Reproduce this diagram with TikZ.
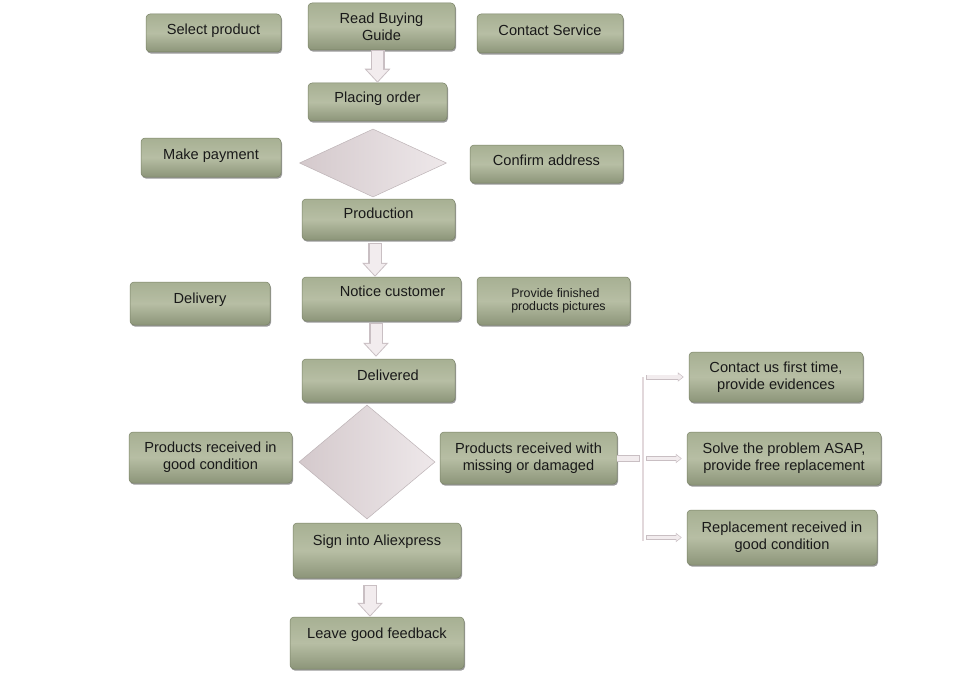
\documentclass[tikz,border=0pt]{standalone}
\usepackage{fontspec}
\setmainfont{Liberation Sans}
\usetikzlibrary{shapes.geometric,arrows.meta,shadows}
\definecolor{gTop}{HTML}{A7B093}
\definecolor{gMid}{HTML}{B7BEA4}
\definecolor{gBot}{HTML}{8C9579}
\definecolor{gEdge}{HTML}{7A8367}
\definecolor{dTop}{HTML}{D4C9CC}
\definecolor{dBot}{HTML}{EEE8EA}
\definecolor{dEdge}{HTML}{BDB3B6}
\definecolor{aFill}{HTML}{F2ECEE}
\definecolor{aEdge}{HTML}{C9BFC3}
\definecolor{lnk}{HTML}{E2D8DB}
\newcommand\blockarr[4]{%
  \draw[aEdge, line width=14pt, -{Triangle[width=25pt,length=14pt]}, shorten <=#3, shorten >=#4] (#1) -- (#2);
  \draw[aFill, line width=11pt, -{Triangle[width=20.5pt,length=11.5pt]}, shorten <=#3+0.8pt, shorten >=#4+1.4pt] (#1) -- (#2);}
\newcommand\smallarr[2]{%
  \draw[aEdge, line width=5pt, -{Triangle[width=9pt,length=6pt]}, shorten <=3pt, shorten >=5pt] (#1) -- (#2);
  \draw[aFill, line width=3.4pt, -{Triangle[width=6.5pt,length=4.5pt]}, shorten <=3.8pt, shorten >=6pt] (#1) -- (#2);}
\begin{document}
\begin{tikzpicture}[x=1pt,y=-1pt,
  gbox/.style={rectangle, rounded corners=4pt, top color=gTop, bottom color=gBot, middle color=gMid,
    draw=gEdge, line width=0.5pt, inner sep=2pt, align=center,
    font=\fontsize{14.6}{17}\selectfont, text=black!90,
    drop shadow={shadow xshift=1pt, shadow yshift=-1.6pt, opacity=0.4, fill=black}},
  bsize/.style n args={2}{minimum width=#1pt, minimum height=#2pt},
  dshape/.style={diamond, inner sep=0pt, left color=dTop, right color=dBot, draw=dEdge, line width=0.5pt},
]
\fill[white] (0,0) rectangle (979,698);
\useasboundingbox (0,0) rectangle (979,698);

% boxes
\node[gbox, bsize={135}{38}, text depth=7pt] (sel) at (213.5,33) {Select product};
\node[gbox, bsize={147}{47}] (guide) at (381.5,26.5) {Read Buying\\Guide};
\node[gbox, bsize={146}{39}, text depth=7pt] (csvc) at (550,33.5) {Contact Service};
\node[gbox, bsize={139}{38}, text depth=9pt] (order) at (377.5,102) {Placing order};
\node[gbox, bsize={140}{39}, text depth=7pt] (pay) at (211,157.5) {Make payment};
\node[dshape, minimum width=147pt, minimum height=68pt] (d1) at (373,163) {};
\node[gbox, bsize={153}{38}, text depth=7pt] (conf) at (546.5,164) {Confirm address};
\node[gbox, bsize={153}{41}, text depth=13pt] (prod) at (378.5,219.5) {Production};
\node[gbox, bsize={140}{43}, text depth=11pt] (deliv) at (200,303.5) {Delivery};
\node[gbox, bsize={159}{44}, text depth=15pt] (notice) at (381.5,299) {\hspace*{22pt}Notice customer};
\node[gbox, bsize={153}{48}, align=left, font=\fontsize{12.4}{13}\selectfont] (pics) at (553.5,301)
  {\hspace*{10pt}Provide finished\\\hspace*{10pt}products pictures};
\node[gbox, bsize={153}{43}, text depth=11pt] (dlvd) at (378.5,380.5) {\hspace*{19pt}Delivered};
\node[dshape, minimum width=136pt, minimum height=114pt] (d2) at (367,462) {};
\node[gbox, bsize={163}{51}] (good) at (210.5,457.5) {Products received in\\good condition};
\node[gbox, bsize={177}{52}] (miss) at (528.5,458) {Products received with\\missing or damaged};
\node[gbox, bsize={174}{50}] (c1) at (776,377) {Contact us first time,\\provide evidences};
\node[gbox, bsize={194}{53}] (c2) at (784,458.5) {Solve the problem ASAP,\\provide free replacement};
\node[gbox, bsize={190}{55}] (c3) at (782,537.5) {Replacement received in\\good condition};
\node[gbox, bsize={168}{55}, text depth=21pt] (sign) at (377,550.5) {Sign into Aliexpress};
\node[gbox, bsize={174}{52}, text depth=19pt] (leave) at (377,643) {Leave good feedback};

% block arrows
\coordinate (a1s) at (order.north |- guide.south);
\blockarr{a1s}{order.north}{0pt}{0pt}
\coordinate (a2s) at ([xshift=-3.5pt]prod.south);
\coordinate (a2e) at (a2s |- notice.north);
\blockarr{a2s}{a2e}{3pt}{0pt}
\coordinate (a3s) at ([xshift=-5.5pt]notice.south);
\coordinate (a3e) at (a3s |- dlvd.north);
\blockarr{a3s}{a3e}{2pt}{2pt}
\coordinate (a4s) at ([xshift=-7pt]sign.south);
\coordinate (a4e) at (a4s |- leave.north);
\blockarr{a4s}{a4e}{7pt}{0pt}

% branch on the right
\coordinate (stubend) at (640,458);
\draw[aEdge, line width=7pt] (miss.east) -- (stubend);
\draw[aFill, line width=5pt, shorten >=0.8pt] (miss.east) -- (stubend);
\coordinate (bt) at (643,377);
\coordinate (bb) at (643,541);
\draw[lnk, line width=2pt] (bt) -- (bb);
\coordinate (h1) at (bt |- c1.west);
\coordinate (h2) at (bt |- c2.west);
\coordinate (h3) at (bt |- c3.west);
\smallarr{h1}{c1.west}
\smallarr{h2}{c2.west}
\smallarr{h3}{c3.west}
\end{tikzpicture}
\end{document}
